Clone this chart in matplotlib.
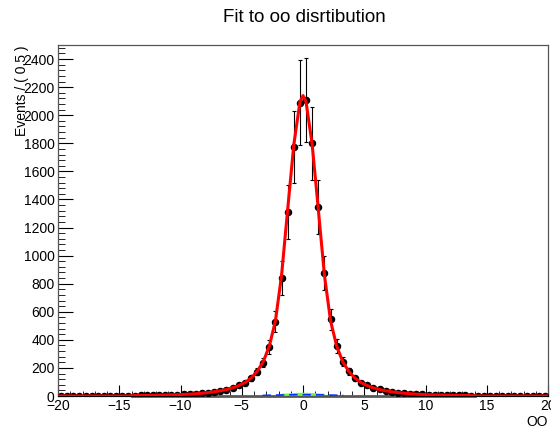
import numpy as np
import matplotlib.pyplot as plt
from matplotlib.ticker import MultipleLocator

plt.rcParams['font.family'] = ['Liberation Sans', 'DejaVu Sans']

# binned data: 80 bins of width 0.5 between -20 and 20
bin_centers = np.arange(-19.75, 20.0, 0.5)

counts_left = [1, 1, 1, 1, 1, 1, 1, 1, 1, 1, 2, 2,
               3, 4, 4, 5, 6, 7, 8, 9, 11, 13, 16, 19,
               23, 28, 36, 45, 55, 75, 95, 126, 173, 237, 351, 529,
               842, 1310, 1775, 2090]
counts_right = [2110, 1800, 1345, 878, 545, 357, 245, 175, 126, 92,
                75, 58, 47, 37, 29, 23, 19, 16, 13, 11,
                9, 8, 7, 6, 5, 4, 4, 3, 2, 2,
                2, 1, 1, 1, 1, 1, 1, 1, 1, 1]
counts = np.array(counts_left + counts_right)

errors_left = [6, 6, 6, 6, 6, 6, 6, 6, 6, 6, 6, 6,
               6, 6, 6, 6, 6, 6, 6, 6, 6, 6, 6, 6,
               6, 6, 7, 8, 9, 11, 13, 18, 24, 33, 50, 75,
               120, 190, 256, 300]
errors_right = [300, 260, 190, 122, 72, 50, 34, 25, 18, 13,
                11, 9, 7, 6, 6, 6, 6, 6, 6, 6,
                6, 6, 6, 6, 6, 6, 6, 6, 6, 6,
                6, 6, 6, 6, 6, 6, 6, 6, 6, 6]
errors = np.array(errors_left + errors_right)

# total fit curve sampled at bin centres (plus range ends and the peak)
fit_left = [0, 0, 0, 0, 0, 0, 0, 0, 0, 0, 0, 0,
            3, 4, 4, 5, 6, 7, 8, 9, 11, 13, 16,
            20, 24, 30, 37, 46, 58, 74, 95, 127, 174, 243, 355, 535,
            860, 1330, 1790, 2095]
fit_right = [2095, 1790, 1330, 860, 535, 355, 243, 174, 127, 95,
             74, 58, 46, 37, 30, 24, 20,
             16, 13, 11, 9, 8, 7, 6, 5, 4, 4, 3,
             0, 0, 0, 0, 0, 0, 0, 0, 0, 0, 0, 0]
fit_x = [-20.0] + list(bin_centers[:40]) + [0.0] + list(bin_centers[40:]) + [20.0]
fit_y = [0] + fit_left + [2140] + fit_right + [0]

# background components
bkg_x = [-14.0, -10.0, -5.0, 0.0, 5.0, 10.0, 14.0]
bkg_y = [3, 3, 3, 3, 3, 3, 3]
core_x = [-1.6, -1.0, -0.5, 0.0, 0.5, 1.0, 1.6]
core_y = [4, 7, 10, 11, 10, 7, 4]
sig2_x = [-3.3, -2.5, -1.5, -0.5, 0.0, 0.5, 1.5, 2.5, 3.3]
sig2_y = [4, 6, 8, 9, 9, 9, 8, 6, 4]

fig = plt.figure(figsize=(5.51, 4.29), dpi=100)
ax = fig.add_axes([58 / 551, 33 / 429, 490 / 551, 351 / 429])

ax.plot(bkg_x, bkg_y, color='#00a000', lw=2, clip_on=False)
ax.plot(core_x, core_y, color='#66ff33', lw=2.5)
ax.plot(sig2_x, sig2_y, color='#0033ff', lw=1.2, ls=(0, (5, 3)))

ax.errorbar(bin_centers, counts, yerr=errors, fmt='o', color='black',
            ms=4.4, elinewidth=0.8, capsize=1.5, capthick=0.8, zorder=3)
ax.plot(fit_x, fit_y, color='red', lw=2.2, zorder=4)

ax.set_xlim(-20, 20)
ax.set_ylim(0, 2500)

ax.xaxis.set_major_locator(MultipleLocator(5))
ax.xaxis.set_minor_locator(MultipleLocator(1))
ax.yaxis.set_major_locator(MultipleLocator(200))
ax.yaxis.set_minor_locator(MultipleLocator(40))
ax.tick_params(axis='both', which='both', direction='in', labelsize=10,
               top=False, right=False)
ax.tick_params(axis='x', which='major', length=7.6, pad=2.5)
ax.tick_params(axis='x', which='minor', length=3.8)
ax.tick_params(axis='y', which='major', length=10.6, pad=2.5)
ax.tick_params(axis='y', which='minor', length=5.3)
for s in ax.spines.values():
    s.set_color('#555555')
    s.set_linewidth(0.9)

fig.text(304 / 551, 1 - 18 / 429, 'Fit to oo disrtibution', ha='center', va='center', fontsize=13.5)
fig.text(22 / 551, 1 - 45 / 429, 'Events / ( 0.5 )', ha='center', va='top',
         rotation=90, fontsize=10)
fig.text(548 / 551, 1 - 422 / 429, 'OO', ha='right', va='center', fontsize=10)

fig.savefig('out.png', dpi=100)
